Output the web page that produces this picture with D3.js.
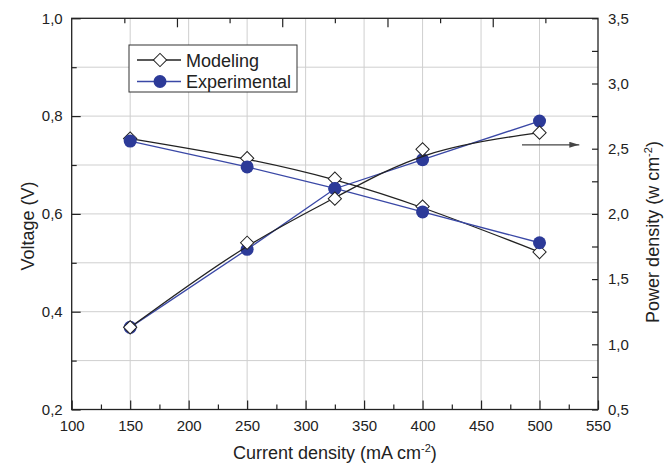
<!DOCTYPE html>
<html>
<head>
<meta charset="UTF-8">
<title>Voltage and power density vs current density</title>
<script src="https://d3js.org/d3.v7.min.js"></script>
<style>
  html, body { margin: 0; padding: 0; background: white; }
  svg text { font-family: "Liberation Sans", Arial, Helvetica, sans-serif; fill: #222; }
  .tick text { font-size: 15px; }
  .axis path, .axis line { stroke: #222; stroke-width: 1.2; }
  .grid line { stroke: #cfcfcf; stroke-width: 1; }
</style>
</head>
<body>
<div id="chart"></div>
<script>
// data
const currentDensity = [150, 250, 325, 400, 500];
const voltageModeling = [0.754, 0.714, 0.672, 0.615, 0.522];
const voltageExperimental = [0.749, 0.696, 0.652, 0.604, 0.541];
const powerModeling = [1.13, 1.779, 2.117, 2.495, 2.623];
const powerExperimental = [1.13, 1.728, 2.193, 2.416, 2.712];

const xTicks = [100, 150, 200, 250, 300, 350, 400, 450, 500, 550];
const voltageTicks = [0.2, 0.4, 0.6, 0.8, 1.0];
const powerTicks = [0.5, 1.0, 1.5, 2.0, 2.5, 3.0, 3.5];
const legendLabels = ['Modeling', 'Experimental'];
// arrow pointing to the power axis, in data units (x, power)
const arrowFrom = [485, 2.53], arrowTo = [534, 2.53];

const width = 672, height = 465;
const mLeft = 71.7, mRight = 598, mTop = 18.3, mBottom = 409.5;
const blue = '#2c3a98', blueLine = '#3a48a6', black = '#222';

const svg = d3.select('#chart').append('svg')
  .attr('width', width)
  .attr('height', height);

const x = d3.scaleLinear().domain([100, 550]).range([mLeft, mRight]);
const yV = d3.scaleLinear().domain([0.2, 1.0]).range([mBottom, mTop]);
const yP = d3.scaleLinear().domain([0.5, 3.5]).range([mBottom, mTop]);
const topScale = d3.scaleLinear().domain([0, 10]).range([mLeft, mRight]);

const comma = f => v => d3.format(f)(v).replace('.', ',');

// grid
const grid = svg.append('g').attr('class', 'grid');
grid.selectAll('.vg')
  .data(d3.range(150, 501, 50))
  .enter().append('line')
  .attr('x1', d => x(d)).attr('x2', d => x(d))
  .attr('y1', mTop).attr('y2', mBottom);
grid.selectAll('.hg')
  .data(d3.range(3, 10).map(d => d / 10))
  .enter().append('line')
  .attr('x1', mLeft).attr('x2', mRight)
  .attr('y1', d => yV(d)).attr('y2', d => yV(d));

// frame
svg.append('rect')
  .attr('x', mLeft).attr('y', mTop)
  .attr('width', mRight - mLeft).attr('height', mBottom - mTop)
  .attr('fill', 'none').attr('stroke', black).attr('stroke-width', 1.3);

// axes
svg.append('g').attr('class', 'axis')
  .attr('transform', `translate(0,${mBottom})`)
  .call(d3.axisBottom(x).tickValues(xTicks).tickSize(-9).tickPadding(11).tickFormat(d3.format('d')))
  .call(g => g.select('.domain').remove());
svg.append('g').attr('class', 'axis')
  .attr('transform', `translate(0,${mBottom})`)
  .call(d3.axisBottom(x).tickValues(d3.range(125, 550, 50)).tickSize(-5).tickFormat(''))
  .call(g => g.select('.domain').remove());

svg.append('g').attr('class', 'axis')
  .attr('transform', `translate(${mLeft},0)`)
  .call(d3.axisLeft(yV).tickValues(voltageTicks).tickSize(-9).tickPadding(9).tickFormat(comma('.1f')))
  .call(g => g.select('.domain').remove());
svg.append('g').attr('class', 'axis')
  .attr('transform', `translate(${mLeft},0)`)
  .call(d3.axisLeft(yV).tickValues([0.3, 0.5, 0.7, 0.9]).tickSize(-5).tickFormat(''))
  .call(g => g.select('.domain').remove());

svg.append('g').attr('class', 'axis')
  .attr('transform', `translate(${mRight},0)`)
  .call(d3.axisRight(yP).tickValues(powerTicks).tickSize(-6).tickPadding(10).tickFormat(comma('.1f')))
  .call(g => g.select('.domain').remove());
svg.append('g').attr('class', 'axis')
  .attr('transform', `translate(${mRight},0)`)
  .call(d3.axisRight(yP).tickValues([0.75, 1.25, 1.75, 2.25, 2.75, 3.25]).tickSize(-6).tickFormat(''))
  .call(g => g.select('.domain').remove());

svg.append('g').attr('class', 'axis')
  .attr('transform', `translate(0,${mTop})`)
  .call(d3.axisTop(topScale).tickValues([2, 4, 6, 8]).tickSize(-9).tickFormat(''))
  .call(g => g.select('.domain').remove());
svg.append('g').attr('class', 'axis')
  .attr('transform', `translate(0,${mTop})`)
  .call(d3.axisTop(topScale).tickValues([1, 3, 5, 7, 9]).tickSize(-5).tickFormat(''))
  .call(g => g.select('.domain').remove());

// axis titles
const xt = svg.append('text')
  .attr('x', (mLeft + mRight) / 2).attr('y', 459)
  .attr('text-anchor', 'middle').style('font-size', '18px');
xt.append('tspan').text('Current density (mA cm');
xt.append('tspan').attr('dy', -7).style('font-size', '11px').text('-2');
xt.append('tspan').attr('dy', 7).text(')');

svg.append('text')
  .attr('transform', `translate(34,226) rotate(-90)`)
  .attr('text-anchor', 'middle').style('font-size', '18px')
  .text('Voltage (V)');

const pt = svg.append('text')
  .attr('transform', `translate(659,232) rotate(-90)`)
  .attr('text-anchor', 'middle').style('font-size', '18px');
pt.append('tspan').text('Power density (w cm');
pt.append('tspan').attr('dy', -7).style('font-size', '11px').text('-2');
pt.append('tspan').attr('dy', 7).text(')');

// series
const diamond = d3.symbol().type(d3.symbolSquare).size(88);

function drawSeries(values, yScale, color, curve, marker) {
  const pts = currentDensity.map((c, i) => [x(c), yScale(values[i])]);
  svg.append('path')
    .attr('d', d3.line().curve(curve)(pts))
    .attr('fill', 'none')
    .attr('stroke', color)
    .attr('stroke-width', 1.3);
  const g = svg.append('g');
  if (marker === 'diamond') {
    g.selectAll('path').data(pts).enter().append('path')
      .attr('d', diamond)
      .attr('transform', d => `translate(${d[0]},${d[1]}) rotate(45)`)
      .attr('fill', 'white').attr('stroke', black).attr('stroke-width', 1);
  } else {
    g.selectAll('circle').data(pts).enter().append('circle')
      .attr('cx', d => d[0]).attr('cy', d => d[1]).attr('r', 6.5)
      .attr('fill', blue);
  }
}

// modeling curves are smoothed (B-spline), experimental ones are straight segments
drawSeries(voltageModeling, yV, black, d3.curveBasis, 'diamond');
drawSeries(voltageExperimental, yV, blueLine, d3.curveLinear, 'dot');
drawSeries(powerExperimental, yP, blueLine, d3.curveLinear, 'dot');
drawSeries(powerModeling, yP, black, d3.curveBasis, 'diamond');

// arrow
svg.append('defs').append('marker')
  .attr('id', 'arrowhead')
  .attr('viewBox', '0 0 10 6')
  .attr('refX', 10).attr('refY', 3)
  .attr('markerWidth', 10).attr('markerHeight', 6)
  .attr('markerUnits', 'userSpaceOnUse')
  .attr('orient', 'auto')
  .append('path').attr('d', 'M0,0 L10,3 L0,6 Z').attr('fill', '#444');
svg.append('line')
  .attr('x1', x(arrowFrom[0])).attr('y1', yP(arrowFrom[1]))
  .attr('x2', x(arrowTo[0])).attr('y2', yP(arrowTo[1]))
  .attr('stroke', '#444').attr('stroke-width', 1.3)
  .attr('marker-end', 'url(#arrowhead)');

// legend
const legend = svg.append('g').attr('transform', 'translate(129,45)');
legend.append('rect')
  .attr('width', 168).attr('height', 47)
  .attr('fill', 'white').attr('stroke', '#333').attr('stroke-width', 1);
legendLabels.forEach((label, i) => {
  const cy = 15 + i * 21.5;
  const color = i === 0 ? black : blueLine;
  legend.append('line')
    .attr('x1', 8).attr('x2', 52).attr('y1', cy).attr('y2', cy)
    .attr('stroke', color).attr('stroke-width', 1.3);
  if (i === 0) {
    legend.append('path').attr('d', diamond)
      .attr('transform', `translate(31,${cy}) rotate(45)`)
      .attr('fill', 'white').attr('stroke', black).attr('stroke-width', 1);
  } else {
    legend.append('circle').attr('cx', 31).attr('cy', cy).attr('r', 6.5).attr('fill', blue);
  }
  legend.append('text')
    .attr('x', 57).attr('y', cy + 6.5)
    .style('font-size', '18px')
    .text(label);
});
</script>
</body>
</html>
